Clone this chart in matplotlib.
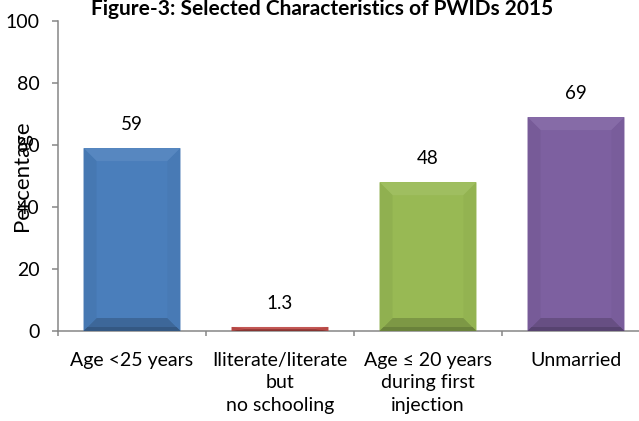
import matplotlib
matplotlib.use("Agg")
import matplotlib.pyplot as plt
from matplotlib.patches import Polygon
from matplotlib.colors import to_rgb
import numpy as np

categories = [
    "Age <25 years",
    "Iliterate/literate\nbut\nno schooling",
    "Age \u2264 20 years\nduring first\ninjection",
    "Unmarried",
]
values = [59, 1.3, 48, 69]
value_labels = ["59", "1.3", "48", "69"]
bar_colors = ["#4A7EBB", "#BE4B48", "#98B954", "#7D60A0"]
y_ticks = [0, 20, 40, 60, 80, 100]
title = "Figure-3: Selected Characteristics of PWIDs 2015"
y_label = "Percentage"

plt.rcParams["font.family"] = ["Lato", "DejaVu Sans"]
AXIS_GRAY = "#868686"

W, H = 639, 421
fig = plt.figure(figsize=(W / 100, H / 100), dpi=100)
ax = fig.add_axes([58 / W, 1 - 331 / H, 592 / W, 310 / H])

x = np.arange(len(categories))
bars = ax.bar(x, values, width=0.655, color=bar_colors, zorder=2)

ax.set_xlim(-0.5, len(categories) - 0.5)
ax.set_ylim(0, 100)


def shade(color, amount):
    c = np.array(to_rgb(color))
    if amount >= 0:
        return tuple(c + (1 - c) * amount)
    return tuple(c * (1 + amount))


def add_bevel(rect, color, depth_px=13):
    x0, y0 = rect.get_x(), rect.get_y()
    w, h = rect.get_width(), rect.get_height()
    x1, y1 = x0 + w, y0 + h
    p0 = ax.transData.transform((0, 0))
    p1 = ax.transData.transform((1, 1))
    dx = min(depth_px / (p1[0] - p0[0]), w / 2)
    dy = min(depth_px / (p1[1] - p0[1]), h / 2)
    faces = [
        ([(x0, y1), (x1, y1), (x1 - dx, y1 - dy), (x0 + dx, y1 - dy)], 0.07),
        ([(x0, y0), (x1, y0), (x1 - dx, y0 + dy), (x0 + dx, y0 + dy)], -0.18),
        ([(x0, y0), (x0, y1), (x0 + dx, y1 - dy), (x0 + dx, y0 + dy)], -0.05),
        ([(x1, y0), (x1, y1), (x1 - dx, y1 - dy), (x1 - dx, y0 + dy)], -0.03),
    ]
    for pts, amt in faces:
        ax.add_patch(Polygon(pts, closed=True, facecolor=shade(color, amt),
                             edgecolor="none", zorder=3))
    # darker rim along the bottom edge
    rim = min(4 / (p1[1] - p0[1]), h / 4)
    ax.add_patch(Polygon([(x0, y0), (x1, y0), (x1 - dx * rim / dy, y0 + rim),
                          (x0 + dx * rim / dy, y0 + rim)], closed=True,
                         facecolor=shade(color, -0.3), edgecolor="none",
                         zorder=3))


for rect, col in zip(bars, bar_colors):
    add_bevel(rect, col)

for xi, v, lbl in zip(x, values, value_labels):
    ax.annotate(lbl, (xi, v), xytext=(0, 17), textcoords="offset points",
                ha="center", va="center", fontsize=13.5, color="#000000")

# axes styling
for side in ("top", "right"):
    ax.spines[side].set_visible(False)
for side in ("left", "bottom"):
    ax.spines[side].set_color(AXIS_GRAY)
    ax.spines[side].set_linewidth(1.1)

ax.set_yticks(y_ticks)
ax.set_yticklabels([str(t) for t in y_ticks], fontsize=14)
ax.tick_params(axis="y", direction="out", length=4.3, width=1.1,
               color=AXIS_GRAY, pad=9)

ax.set_xticks(x)
ax.set_xticklabels([])
ax.tick_params(axis="x", which="major", length=0)
ax.set_xticks(np.arange(-0.5, len(categories)), minor=True)
ax.tick_params(axis="x", which="minor", direction="out", length=3.6,
               width=1.1, color=AXIS_GRAY)

for xi, cat in zip(x, categories):
    ax.annotate(cat, (xi, 0), xycoords=("data", "axes fraction"),
                xytext=(0, -15), textcoords="offset points",
                ha="center", va="top", fontsize=14, linespacing=1.4,
                annotation_clip=False)

fig.text(22 / W, 1 - 176 / H, y_label, rotation=90, ha="center",
         va="center", fontsize=16)
fig.text(322 / W, 1 - 15 / H, title, ha="center", va="baseline",
         fontsize=15, fontweight="bold")

fig.savefig("out.png", dpi=100)
